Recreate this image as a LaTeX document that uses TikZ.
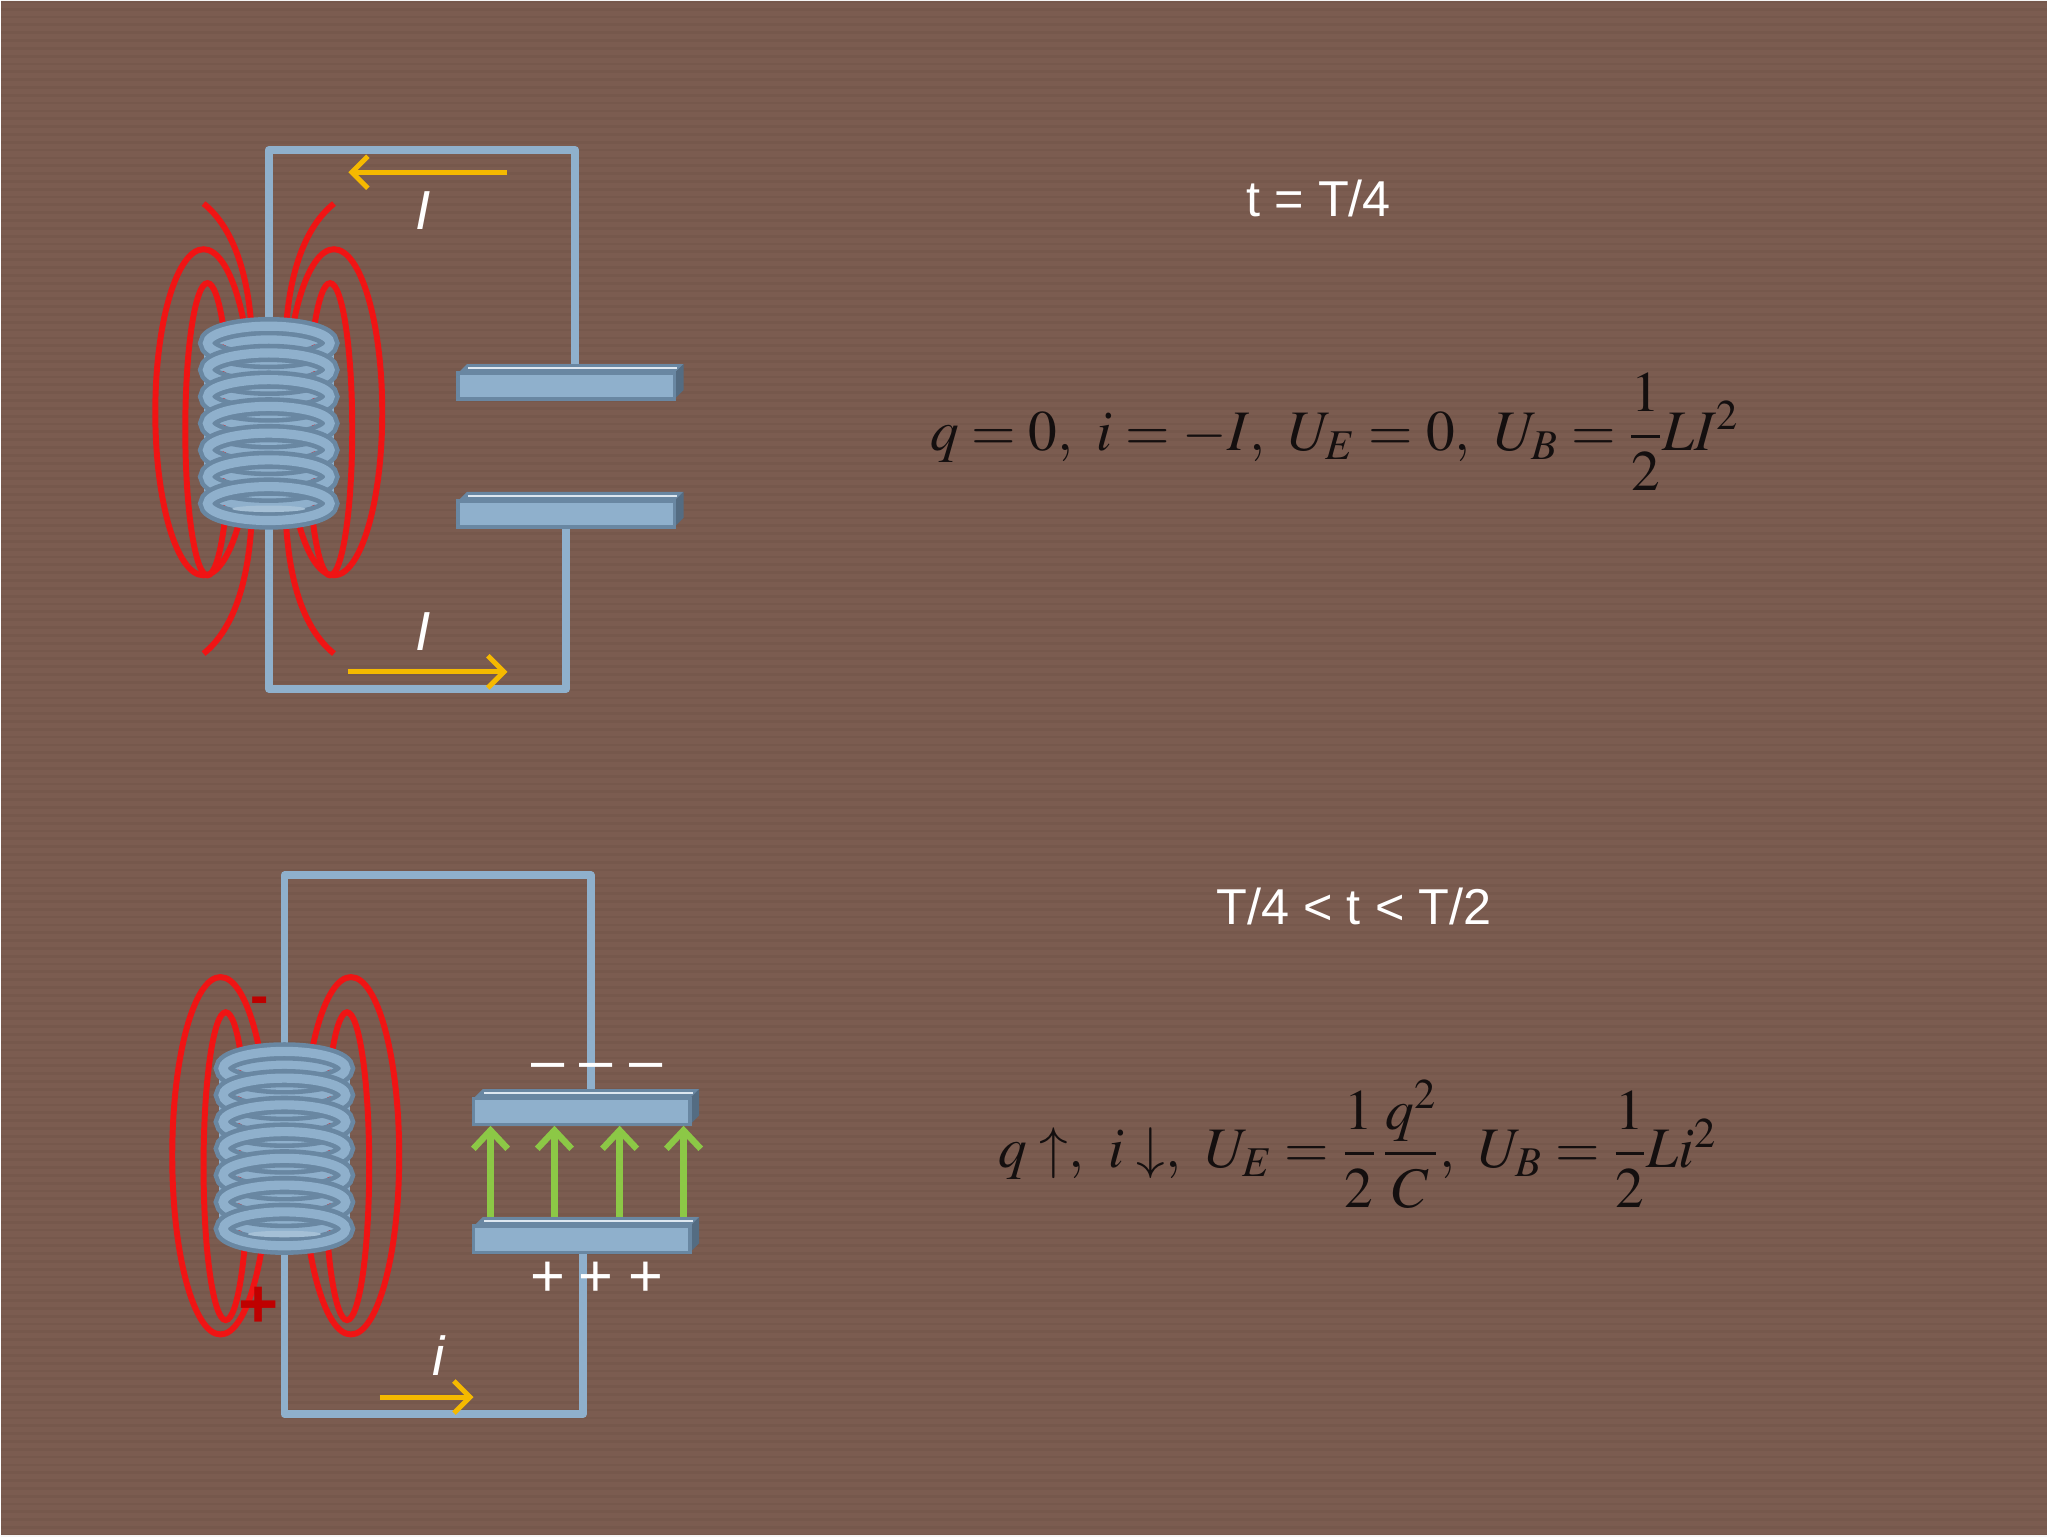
\documentclass[tikz,border=0pt]{standalone}
\usepackage{amsmath}
\usepackage{mathptmx}
\usepackage[no-math]{fontspec}
\newfontfamily\arial{Liberation Sans}
\usetikzlibrary{arrows.meta}
\definecolor{bg}{RGB}{123,92,80}
\definecolor{wire}{RGB}{143,176,204}
\definecolor{wdark}{RGB}{105,135,162}
\definecolor{fld}{RGB}{240,20,20}
\definecolor{ylw}{RGB}{245,185,0}
\definecolor{grn}{RGB}{140,200,70}
\definecolor{txt}{RGB}{20,15,15}
\tikzset{
 wireline/.style={wire,line width=3.4pt,line join=round},
 fieldline/.style={fld,line width=2.6pt},
 cur/.style={ylw,line width=2.2pt,-{Straight Barb[length=7pt,width=14pt,line width=2.2pt]}},
 efield/.style={grn,line width=2.8pt,-{Straight Barb[length=8pt,width=15pt,line width=2.8pt]}},
 lbl/.style={text=white,font=\arial\itshape\fontsize{24}{28}\selectfont},
 ttl/.style={text=white,font=\arial\fontsize{22}{26}\selectfont},
 formula/.style={text=txt,font=\fontsize{25}{30}\selectfont},
 chg/.style={text=white,font=\arial\fontsize{26}{28}\selectfont}
}
\newcommand{\plate}[2]{% x-left, y-top of front
 \fill[wdark] (#1,#2) -- (#1+7,#2-7) -- (#1+173,#2-7) -- (#1+166,#2) -- cycle;
 \fill[wdark!80!black] (#1+166,#2) -- (#1+173,#2-7) -- (#1+173,#2+13) -- (#1+166,#2+20) -- cycle;
 \fill[wire] (#1,#2) rectangle (#1+166,#2+20);
 \draw[wdark,line width=1.5pt] (#1,#2) rectangle (#1+166,#2+20);
 \draw[white!70!wire,line width=0.8pt] (#1+8,#2-4) -- (#1+168,#2-4);
}
\newcommand{\coil}{%
 \fill[wire] (155,255) rectangle (255,392);
 \foreach \k in {0,...,6}{
  \pgfmathsetmacro{\yy}{262+\k*20.5}
  \fill[fld] (170,\yy+4) circle (3);
  \fill[fld] (240,\yy+4) circle (3);
  \draw[wdark,line width=8pt] (205,\yy) ellipse [x radius=47,y radius=13];
  \draw[wire,line width=4pt] (205,\yy) ellipse [x radius=47,y radius=13];
  \fill[wire!80!white] (205,\yy+4) ellipse [x radius=28,y radius=2.5];
 }
}
\begin{document}
\begin{tikzpicture}[x=0.02cm,y=-0.02cm]
\fill[bg] (0,0) rectangle (1568,1176);
\foreach \s in {0,6,...,1176}{\draw[black,opacity=0.04,line width=1.2pt] (0,\s) -- (1568,\s);}
\useasboundingbox (0,0) rectangle (1568,1176);

% ---------- top circuit ----------
\coordinate (tA) at (440,280);
\coordinate (tB) at (433,403);
\draw[wireline] (205,250) -- (205,114) -- (440,114) -- (tA);
\draw[wireline] (205,400) -- (205,527) -- (433,527) -- (tB);
\draw[fieldline] (155,315) ellipse [x radius=37,y radius=125];
\draw[fieldline] (158,328) ellipse [x radius=17,y radius=112];
\draw[fieldline] (255,315) ellipse [x radius=37,y radius=125];
\draw[fieldline] (252,328) ellipse [x radius=17,y radius=112];
\draw[fieldline] (155,155) .. controls (180,175) and (190,215) .. (192,255);
\draw[fieldline] (255,155) .. controls (230,175) and (220,215) .. (218,255);
\draw[fieldline] (192,395) .. controls (190,440) and (180,480) .. (155,500);
\draw[fieldline] (218,395) .. controls (220,440) and (230,480) .. (255,500);
\coil
\plate{350}{285}
\plate{350}{383}
\coordinate (ta1) at (388,131); \coordinate (ta2) at (266,131);
\coordinate (tb1) at (266,514); \coordinate (tb2) at (388,514);
\draw[cur] (ta1) -- (ta2);
\draw[cur] (tb1) -- (tb2);
\node[lbl] (tI1) at (323,160) {I};
\node[lbl] (tI2) at (323,483) {I};
\node[ttl] (ttitle) at (1010,151) {t = T/4};
\node[formula] (tform) at (1022,330) {$q=0,\ i=-I,\ U_E=0,\ U_B=\dfrac{1}{2}LI^2$};

% ---------- bottom circuit ----------
\begin{scope}[shift={(12,556)}]
\coordinate (bA) at (440,278);
\coordinate (bB) at (434,403);
\draw[wireline] (205,250) -- (205,114) -- (440,114) -- (bA);
\draw[wireline] (205,400) -- (205,527) -- (434,527) -- (bB);
\draw[fieldline] (156,329) ellipse [x radius=37,y radius=137];
\draw[fieldline] (160,337) ellipse [x radius=17,y radius=118];
\draw[fieldline] (256,329) ellipse [x radius=37,y radius=137];
\draw[fieldline] (253,337) ellipse [x radius=17,y radius=118];
\coil
\plate{350}{285}
\plate{350}{383}
\foreach \xx [count=\n] in {363,412,462,511}{
 \coordinate (e\n a) at (\xx,376); \coordinate (e\n b) at (\xx,306);
 \draw[efield] (e\n a) -- (e\n b);
}
\foreach \xx [count=\n] in {407,444,482}{
 \node[chg] (m\n) at (\xx,265) {–};
 \node[chg] (p\n) at (\xx,424) {+};
}
\node[text=red!75!black,font=\arial\bfseries\fontsize{24}{26}\selectfont] (cm) at (186,214) {-};
\node[text=red!75!black,font=\arial\bfseries\fontsize{30}{30}\selectfont] (cp) at (185,445) {+};
\coordinate (bc1) at (278,514); \coordinate (bc2) at (350,514);
\draw[cur] (bc1) -- (bc2);
\node[lbl] (bi) at (323,482) {i};
\end{scope}
\node[ttl] (btitle) at (1037,694) {T/4 < t < T/2};
\node[formula] (bform) at (1040,876) {$q\uparrow,\ i\downarrow,\ U_E=\dfrac{1}{2}\,\dfrac{q^2}{C},\ U_B=\dfrac{1}{2}Li^2$};
\end{tikzpicture}
\end{document}
